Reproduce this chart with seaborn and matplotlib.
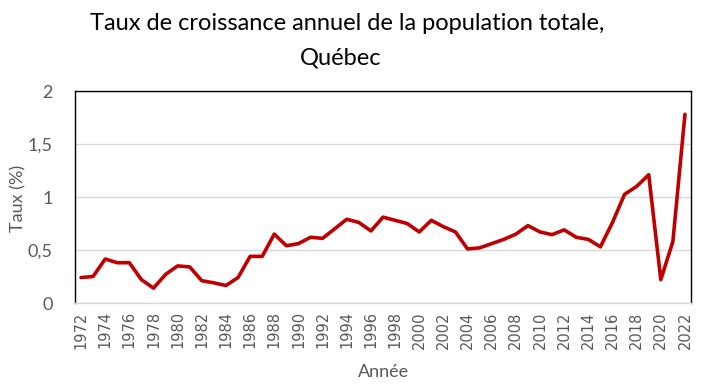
import pandas as pd
import seaborn as sns
import matplotlib.pyplot as plt


# Taux de croissance annuel de la population, Québec (%)
annees = list(range(1972, 2023))
taux = [0.24, 0.25, 0.415, 0.38, 0.38, 0.22, 0.14, 0.27, 0.35, 0.34,
        0.21, 0.19, 0.165, 0.24, 0.44, 0.44, 0.65, 0.54, 0.56, 0.62,
        0.61, 0.70, 0.79, 0.76, 0.68, 0.81, 0.78, 0.75, 0.67, 0.78,
        0.72, 0.67, 0.51, 0.52, 0.56, 0.60, 0.65, 0.73, 0.67, 0.645,
        0.69, 0.62, 0.60, 0.53, 0.76, 1.025, 1.10, 1.21, 0.22, 0.58,
        1.78]
yticks = [0, 0.5, 1, 1.5, 2]
ytick_labels = ['0', '0,5', '1', '1,5', '2']

df = pd.DataFrame({'annee': annees, 'taux': taux})

sns.set_style('white')
plt.rcParams['font.family'] = ['Lato', 'DejaVu Sans']
gris = '#595959'

fig = plt.figure(figsize=(7.05, 3.92), dpi=100)
ax = fig.add_axes([75 / 705, 1 - 303 / 392, 616 / 705, 212 / 392])

sns.lineplot(x='annee', y='taux', data=df, color='#C00000',
             linewidth=2.6, ax=ax)

ax.set_xlim(1971.5, 2022.5)
ax.set_ylim(0, 2)
ax.set_xticks(annees[::2])
ax.set_xticklabels([str(a) for a in annees[::2]], rotation=90,
                   fontsize=10.5, color=gris, family='DejaVu Sans')
ax.set_yticks(yticks)
ax.set_yticklabels(ytick_labels, fontsize=13, color=gris)
ax.tick_params(axis='x', length=0, pad=6)
ax.tick_params(axis='y', length=0, pad=16)
ax.grid(axis='y', color='#D9D9D9', linewidth=1)
ax.set_axisbelow(True)
ax.set_xlabel('')
ax.set_ylabel('')

for s in ['top', 'left', 'right']:
    ax.spines[s].set_color('black')
    ax.spines[s].set_linewidth(1)
ax.spines['bottom'].set_color('#D9D9D9')
ax.spines['bottom'].set_linewidth(1)

fig.text(347 / 705, 1 - 30 / 392,
         'Taux de croissance annuel de la population totale,',
         ha='center', va='baseline', fontsize=17, color='black')
fig.text(341 / 705, 1 - 64 / 392, 'Québec',
         ha='center', va='baseline', fontsize=17, color='black')
fig.text(18 / 705, 1 - 198 / 392, 'Taux (%)', rotation=90,
         ha='center', va='center', fontsize=13, color=gris)
fig.text(383 / 705, 1 - 372 / 392, 'Année',
         ha='center', va='center', fontsize=13, color=gris)

plt.savefig('out.png', dpi=100)
